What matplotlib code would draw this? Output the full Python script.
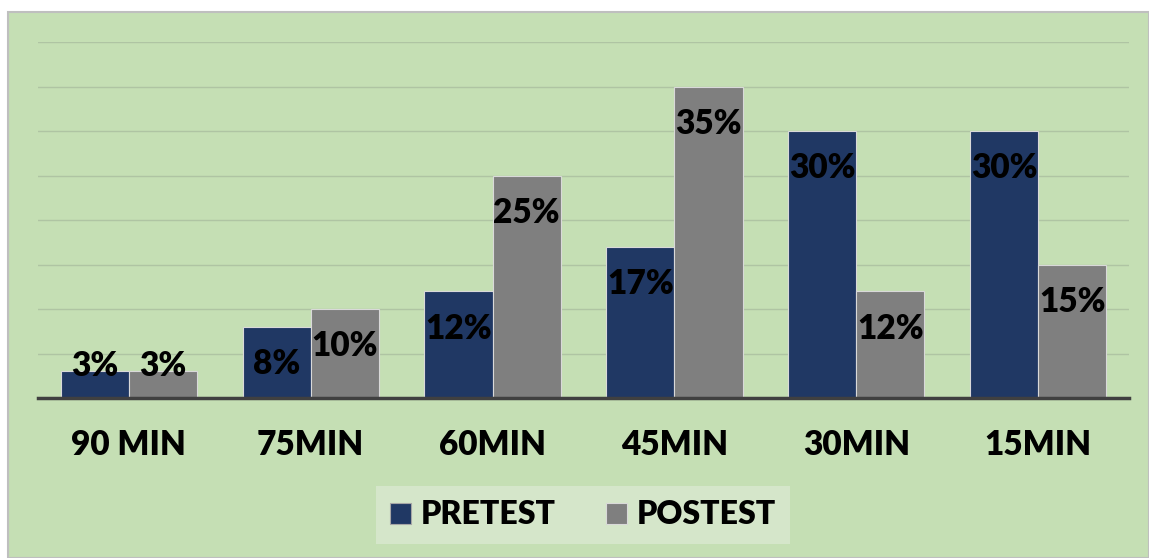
import matplotlib.pyplot as plt
import matplotlib.patches as mpatches
import numpy as np

categories = ["90 MIN", "75MIN", "60MIN", "45MIN", "30MIN", "15MIN"]
pretest = [3, 8, 12, 17, 30, 30]
postest = [3, 10, 25, 35, 12, 15]
series_names = ["PRETEST", "POSTEST"]

navy = '#203864'
gray = '#7F7F7F'
bg = '#C5DFB4'
legend_bg = '#D5E6CA'

plt.rcParams['font.family'] = ['Lato', 'DejaVu Sans']

W, H = 1149, 558
fig = plt.figure(figsize=(W / 100, H / 100), dpi=100)
fig.patch.set_facecolor('white')
# chart area background with thin border
fig.patches.append(mpatches.Rectangle((8 / W, 0), 1 - 8 / W, 1 - 12 / H, transform=fig.transFigure,
                                      facecolor=bg, edgecolor='#BFBFBF', linewidth=1.5, zorder=-10))

ax = fig.add_axes([38 / W, 160 / H, (1129 - 38) / W, 356 / H])
ax.set_facecolor('none')

x = np.arange(len(categories))
w = 0.375
b1 = ax.bar(x - w / 2, pretest, w, color=navy, edgecolor='#D9D9D9', linewidth=0.8, zorder=3)
b2 = ax.bar(x + w / 2, postest, w, color=gray, edgecolor='#D9D9D9', linewidth=0.8, zorder=3)

for bars, vals in [(b1, pretest), (b2, postest)]:
    for rect, v in zip(bars, vals):
        y = max(v - 4.2, 3.6)
        ax.text(rect.get_x() + rect.get_width() / 2, y, f"{v}%", ha='center', va='center',
                fontsize=24, fontweight='heavy', color='black', zorder=4)

ax.set_ylim(0, 40)
ax.set_xlim(-0.5, len(categories) - 0.5)
ax.set_yticks(np.arange(5, 41, 5))
ax.yaxis.grid(True, color='#AFC4A3', linewidth=1)
ax.set_axisbelow(True)
ax.tick_params(axis='y', left=False, labelleft=False)
ax.set_xticks(x)
ax.set_xticklabels(categories, fontsize=24, fontweight='heavy')
ax.tick_params(axis='x', length=0, pad=22)
for s in ['top', 'right', 'left']:
    ax.spines[s].set_visible(False)
ax.spines['bottom'].set_color('#404040')
ax.spines['bottom'].set_linewidth(2.5)
ax.spines['bottom'].set_zorder(5)

handles = [mpatches.Patch(facecolor=navy, edgecolor='#A6A6A6', linewidth=0.8),
           mpatches.Patch(facecolor=gray, edgecolor='#D9D9D9', linewidth=0.8)]
leg = fig.legend(handles, series_names, loc='center', bbox_to_anchor=(583 / W, (558 - 515) / H),
                 ncol=2, prop={'weight': 'heavy', 'size': 23}, frameon=True, fancybox=False,
                 handlelength=0.65, handleheight=0.65, handletextpad=0.3, columnspacing=1.6,
                 borderpad=0.45, borderaxespad=0)
leg.get_frame().set_facecolor(legend_bg)
leg.get_frame().set_edgecolor('none')
leg.get_frame().set_alpha(1)

fig.savefig('out.png', dpi=100, facecolor=fig.get_facecolor())
